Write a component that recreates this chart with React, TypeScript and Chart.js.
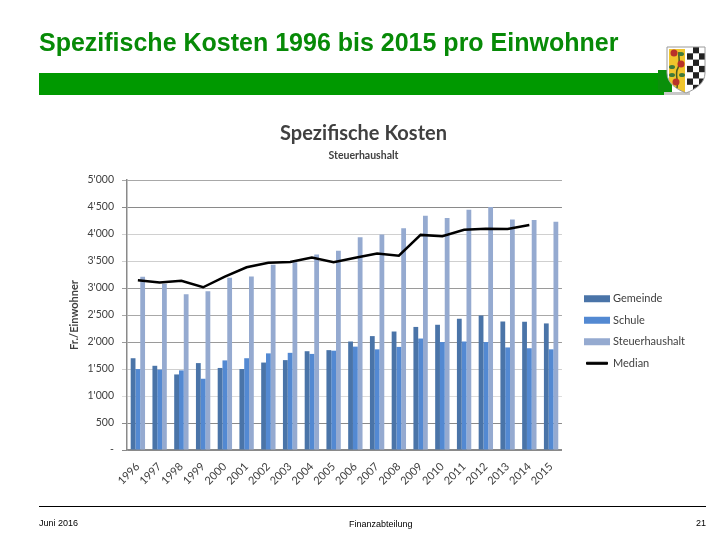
import React, { useEffect, useRef } from "react";
import { Chart, registerables } from "chart.js";

Chart.register(...registerables);

const years = ["1996","1997","1998","1999","2000","2001","2002","2003","2004","2005","2006","2007","2008","2009","2010","2011","2012","2013","2014","2015"];
const gemeinde = [1700,1560,1400,1610,1520,1500,1620,1665,1830,1850,2010,2110,2195,2280,2320,2430,2490,2380,2375,2345];
const schule = [1500,1490,1475,1320,1660,1700,1790,1800,1780,1840,1915,1865,1910,2065,2000,2010,2000,1900,1885,1865];
const steuerhaushalt = [3210,3080,2885,2940,3190,3215,3430,3480,3620,3690,3940,3990,4110,4340,4300,4450,4500,4270,4260,4230];
const median = [3145,3105,3135,3015,3210,3385,3470,3485,3565,3480,3560,3640,3600,3985,3960,4080,4100,4095,4170,null];
const gridColors = ["#8a8a8a","#8a8a8a","#dddddd","#cfcfcf","#9a9a9a","#a8a8a8","#9a9a9a","#cfcfcf","#d0d0d0","#8a8a8a","#a8a8a8"];

const FONT = "Lato, 'Open Sans', sans-serif";
const TEXT = "#404040";

const legendShift = {
  id: "legendShift",
  afterLayout(chart: any) {
    const l = chart.legend;
    if (l) {
      l.left = 576;
      l.right = 720;
      l.width = 144;
      l.top += 25;
      l.bottom += 25;
    }
  },
};

const crestRows = [0, 1, 2, 3, 4, 5, 6];
const crestCols = [0, 1, 2];

export default function App() {
  const ref = useRef<HTMLCanvasElement>(null);
  useEffect(() => {
    const chart = new Chart(ref.current as HTMLCanvasElement, {
      type: "bar",
      data: {
        labels: years,
        datasets: [
          { label: "Gemeinde", data: gemeinde, backgroundColor: "#4a74a8", order: 2 },
          { label: "Schule", data: schule, backgroundColor: "#5389d2", order: 2 },
          { label: "Steuerhaushalt", data: steuerhaushalt, backgroundColor: "#95aad0", order: 2 },
          { type: "line", label: "Median", data: median, borderColor: "#000000", backgroundColor: "#000000", borderWidth: 2.5, pointRadius: 0, tension: 0, order: 1 },
        ] as any,
      },
      options: {
        responsive: false,
        animation: false,
        layout: { padding: { left: 46, right: 39, top: 122, bottom: 50 } },
        datasets: { bar: { categoryPercentage: 0.66, barPercentage: 1 } },
        plugins: {
          tooltip: { enabled: false },
          title: {
            display: true,
            text: "Spezifische Kosten",
            color: "#404040",
            font: { family: FONT, size: 20, weight: "bold" },
            padding: { top: 0, bottom: 3 },
          },
          subtitle: {
            display: true,
            text: "Steuerhaushalt",
            color: "#404040",
            font: { family: FONT, size: 10.5, weight: "bold" },
            padding: { top: 0, bottom: 18.5 },
          },
          legend: {
            position: "right",
            labels: {
              color: TEXT,
              font: { family: FONT, size: 11 },
              boxWidth: 21,
              boxHeight: 2,
              padding: 10.5,
              generateLabels: (c: any) =>
                c.data.datasets.map((d: any, i: number) => ({
                  text: d.label,
                  fillStyle: d.backgroundColor,
                  strokeStyle: d.backgroundColor,
                  lineWidth: d.type === "line" ? 1 : 5,
                  fontColor: TEXT,
                  datasetIndex: i,
                  hidden: false,
                })),
            },
          },
        },
        scales: {
          x: {
            afterFit: (s: any) => { s.height = 40; },
            grid: { display: false },
            border: { color: "#8a8a8a", width: 1.5 },
            ticks: { color: TEXT, font: { family: FONT, size: 11 }, minRotation: 45, maxRotation: 45, autoSkip: false, padding: 2 },
          },
          y: {
            min: 0,
            max: 5000,
            afterFit: (s: any) => { s.width = 81; },
            title: {
              display: true,
              text: "Fr./Einwohner",
              color: TEXT,
              font: { family: FONT, size: 11, weight: "bold" },
              padding: { top: 22, bottom: 0 },
            },
            border: { color: "#8a8a8a", width: 1.5 },
            grid: {
              color: (ctx: any) => gridColors[ctx.index] ?? "#aaaaaa",
              tickColor: (ctx: any) => gridColors[ctx.index] ?? "#aaaaaa",
              tickLength: 5,
              lineWidth: 1,
            },
            ticks: {
              stepSize: 500,
              color: TEXT,
              font: { family: FONT, size: 10.5 },
              padding: 8,
              callback: (v: any) => {
                const n = Number(v);
                if (n === 0) return "-";
                if (n < 1000) return String(n);
                const t = Math.floor(n / 1000);
                return t + "'" + String(n % 1000).padStart(3, "0");
              },
            },
          },
        },
      },
      plugins: [legendShift],
    } as any);
    return () => chart.destroy();
  }, []);

  const abs = (s: React.CSSProperties): React.CSSProperties => ({ position: "absolute", whiteSpace: "nowrap", ...s });
  const arial = "'Liberation Sans', Arial, sans-serif";
  const shield = "M1 1 H39 V27 C39 37 30 43 20 47 C10 43 1 37 1 27 Z";

  return (
    <div style={{ position: "absolute", left: 0, top: 0, width: 720, height: 540, background: "#fff", overflow: "hidden" }}>
      <canvas ref={ref} width={720} height={540} style={{ position: "absolute", left: 0, top: 0, display: "block" }} />
      <div style={abs({ left: 39, top: 28, fontFamily: arial, fontSize: 25, fontWeight: "bold", lineHeight: "28px", color: "#078a07" })}>
        Spezifische Kosten 1996 bis 2015 pro Einwohner
      </div>
      <div style={abs({ left: 39, top: 73, width: 625, height: 22, background: "#009900" })} />
      <div style={abs({ left: 658, top: 70, width: 14, height: 22, background: "#0a8f0a" })} />
      <div style={abs({ left: 664, top: 92, width: 26, height: 3, background: "#c8c8c8" })} />
      <svg style={abs({ left: 666, top: 46 })} width={40} height={48} viewBox="0 0 40 48">
        <defs>
          <clipPath id="crest"><path d={shield} /></clipPath>
        </defs>
        <path d={shield} fill="#ffffff" />
        <g clipPath="url(#crest)">
          <rect x={3} y={3} width={16} height={44} fill="#f0c52c" />
          {crestRows.map((r) => crestCols.map((c) => (r + c) % 2 === 1 ? (
            <rect key={r + "-" + c} x={21 + c * 6} y={1 + r * 6.3} width={6} height={6.3} fill="#222" />
          ) : null))}
        </g>
        <path d={shield} fill="none" stroke="#9a9a9a" strokeWidth="1" />
        <path d="M11 42 C13 34 8 28 12 22 C15 16 12 12 13 6" stroke="#4a5a20" strokeWidth="1.5" fill="none" />
        <circle cx="8" cy="7" r="3.5" fill="#b8322a" />
        <circle cx="15" cy="18" r="3.5" fill="#b8322a" />
        <circle cx="10" cy="36" r="3.5" fill="#b8322a" />
        <ellipse cx="15" cy="8" rx="3" ry="2" fill="#3f7a3a" />
        <ellipse cx="6" cy="21" rx="3" ry="2" fill="#3f7a3a" />
        <ellipse cx="16" cy="29" rx="3" ry="2" fill="#3f7a3a" />
        <ellipse cx="6" cy="29" rx="3" ry="2" fill="#3f7a3a" />
      </svg>
      <div style={abs({ left: 39, top: 506, width: 667, height: 1, background: "#000" })} />
      <div style={abs({ left: 39, top: 517, fontFamily: arial, fontSize: 9, lineHeight: "12px", color: "#000" })}>Juni 2016</div>
      <div style={abs({ left: 349, top: 518, fontFamily: arial, fontSize: 9, lineHeight: "12px", color: "#000" })}>Finanzabteilung</div>
      <div style={abs({ left: 696, top: 517, fontFamily: arial, fontSize: 9, lineHeight: "12px", color: "#000" })}>21</div>
    </div>
  );
}
